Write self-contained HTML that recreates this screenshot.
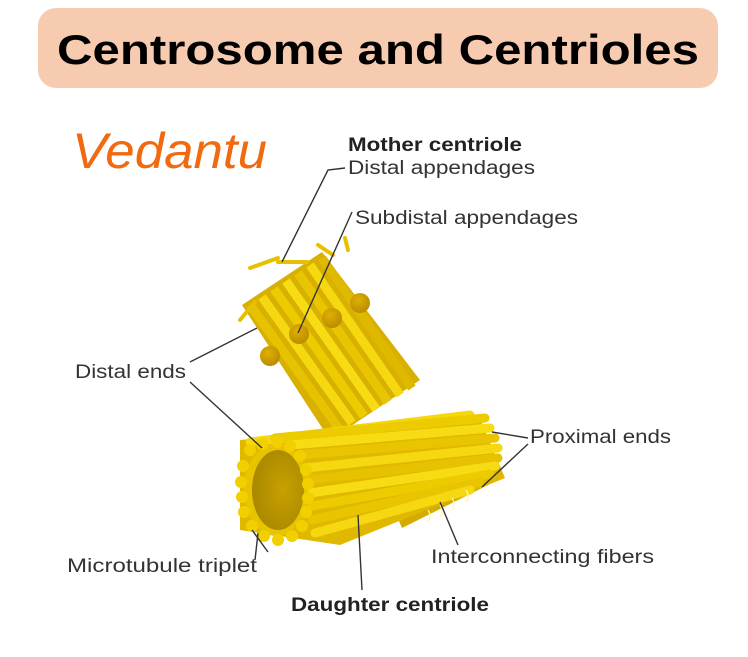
<!DOCTYPE html>
<html><head><meta charset="utf-8"><style>
html,body{margin:0;padding:0;background:#fff;width:748px;height:657px;overflow:hidden}
svg{display:block}
</style></head><body>
<svg width="748" height="657" viewBox="0 0 748 657" xmlns="http://www.w3.org/2000/svg">
<defs>
<radialGradient id="ball" cx="0.4" cy="0.35" r="0.7"><stop offset="0" stop-color="#e0b000"/><stop offset="1" stop-color="#b88a00"/></radialGradient>
<radialGradient id="hole" cx="0.6" cy="0.5" r="0.6"><stop offset="0" stop-color="#c8a000"/><stop offset="1" stop-color="#a88800"/></radialGradient>
</defs>
<rect x="38" y="8" width="680" height="80" rx="18" fill="#f6cbb0"/>
<text x="378" y="64" text-anchor="middle" font-family="Liberation Sans, sans-serif" font-weight="bold" font-size="42" fill="#000" textLength="642" lengthAdjust="spacingAndGlyphs">Centrosome and Centrioles</text>
<text x="72" y="168" font-family="Liberation Sans, sans-serif" font-style="italic" font-size="50" fill="#f26a10" textLength="195" lengthAdjust="spacingAndGlyphs">Vedantu</text>

<!-- mother centriole -->
<polygon points="242,305 322,252 420,380 330,440" fill="#d8b000"/>
<g stroke-linecap="butt">
<line x1="250" y1="305" x2="340" y2="430" stroke="#e6c200" stroke-width="9"/>
<line x1="262" y1="297" x2="352" y2="423" stroke="#f5d810" stroke-width="9"/>
<line x1="274" y1="289" x2="364" y2="416" stroke="#eccb00" stroke-width="9"/>
<line x1="286" y1="281" x2="376" y2="409" stroke="#f7dc14" stroke-width="9"/>
<line x1="298" y1="273" x2="388" y2="402" stroke="#e8c500" stroke-width="9"/>
<line x1="310" y1="265" x2="400" y2="395" stroke="#f5d810" stroke-width="9"/>
<line x1="322" y1="258" x2="412" y2="388" stroke="#dfb800" stroke-width="9"/>
</g>
<g stroke="#e8c000" stroke-width="4" stroke-linecap="round">
<line x1="240" y1="320" x2="255" y2="302"/>
<line x1="250" y1="268" x2="278" y2="258"/>
<line x1="278" y1="262" x2="307" y2="262"/>
<line x1="318" y1="245" x2="333" y2="255"/>
<line x1="345" y1="238" x2="348" y2="250"/>
</g>
<circle cx="270" cy="356" r="10" fill="url(#ball)"/>
<circle cx="299" cy="334" r="10" fill="url(#ball)"/>
<circle cx="332" cy="318" r="10" fill="url(#ball)"/>
<circle cx="360" cy="303" r="10" fill="url(#ball)"/>

<!-- daughter centriole -->
<polygon points="392,505 480,470 488,485 402,528" fill="#d4ac00"/>
<polygon points="240,440 480,418 505,478 340,545 240,530" fill="#e0b800"/>
<g stroke-linecap="round" stroke-width="9">
<line x1="250" y1="442" x2="470" y2="415" stroke="#f5d810"/>
<line x1="275" y1="438" x2="485" y2="418" stroke="#eccb00"/>
<line x1="290" y1="445" x2="490" y2="428" stroke="#f7dc14"/>
<line x1="300" y1="455" x2="495" y2="438" stroke="#e8c500"/>
<line x1="305" y1="468" x2="498" y2="448" stroke="#f5d810"/>
<line x1="308" y1="480" x2="498" y2="458" stroke="#e6c200"/>
<line x1="310" y1="493" x2="495" y2="466" stroke="#f7dc14"/>
<line x1="312" y1="506" x2="490" y2="474" stroke="#eccb00"/>
<line x1="312" y1="520" x2="480" y2="482" stroke="#e8c500"/>
<line x1="315" y1="533" x2="470" y2="490" stroke="#f5d810"/>
</g>
<ellipse cx="276" cy="490" rx="32" ry="46" fill="#e8c400"/>
<ellipse cx="278" cy="490" rx="26" ry="40" fill="url(#hole)"/>
<g fill="#f2d000" transform="translate(-8,0)">
<circle cx="258" cy="450" r="6"/><circle cx="270" cy="444" r="6"/><circle cx="285" cy="442" r="6"/><circle cx="298" cy="446" r="6"/><circle cx="308" cy="456" r="6"/><circle cx="314" cy="470" r="6"/><circle cx="316" cy="484" r="6"/><circle cx="316" cy="498" r="6"/><circle cx="314" cy="512" r="6"/><circle cx="310" cy="526" r="6"/><circle cx="300" cy="536" r="6"/><circle cx="286" cy="540" r="6"/><circle cx="272" cy="536" r="6"/><circle cx="260" cy="526" r="6"/><circle cx="252" cy="512" r="6"/><circle cx="250" cy="497" r="6"/><circle cx="249" cy="482" r="6"/><circle cx="251" cy="466" r="6"/>
</g>
<g stroke="#fff5b0" stroke-width="1.3" fill="none">
<path d="M428 510 q4 6 0 12"/><path d="M440 505 q4 6 0 12"/><path d="M452 498 q4 6 0 12"/><path d="M466 490 q4 6 0 12"/>
</g>

<!-- leader lines -->
<g stroke="#333" stroke-width="1.4" fill="none">
<polyline points="345,168 328,170 282,262"/>
<line x1="352" y1="212" x2="298" y2="333"/>
<line x1="190" y1="362" x2="257" y2="328"/>
<line x1="190" y1="382" x2="262" y2="448"/>
<line x1="528" y1="438" x2="492" y2="432"/>
<line x1="528" y1="444" x2="482" y2="487"/>
<line x1="255" y1="560" x2="258" y2="533"/>
<line x1="268" y1="552" x2="252" y2="530"/>
<line x1="458" y1="545" x2="440" y2="502"/>
<line x1="362" y1="590" x2="358" y2="515"/>
</g>

<g font-family="Liberation Sans, sans-serif" font-size="19" fill="#333">
<text x="348" y="151" font-weight="bold" fill="#222" textLength="174" lengthAdjust="spacingAndGlyphs">Mother centriole</text>
<text x="348" y="174" textLength="187" lengthAdjust="spacingAndGlyphs">Distal appendages</text>
<text x="355" y="224" textLength="223" lengthAdjust="spacingAndGlyphs">Subdistal appendages</text>
<text x="75" y="378" textLength="111" lengthAdjust="spacingAndGlyphs">Distal ends</text>
<text x="530" y="443" textLength="141" lengthAdjust="spacingAndGlyphs">Proximal ends</text>
<text x="67" y="572" textLength="190" lengthAdjust="spacingAndGlyphs">Microtubule triplet</text>
<text x="431" y="563" textLength="223" lengthAdjust="spacingAndGlyphs">Interconnecting fibers</text>
<text x="291" y="611" font-weight="bold" fill="#222" textLength="198" lengthAdjust="spacingAndGlyphs">Daughter centriole</text>
</g>
</svg>
</body></html>
